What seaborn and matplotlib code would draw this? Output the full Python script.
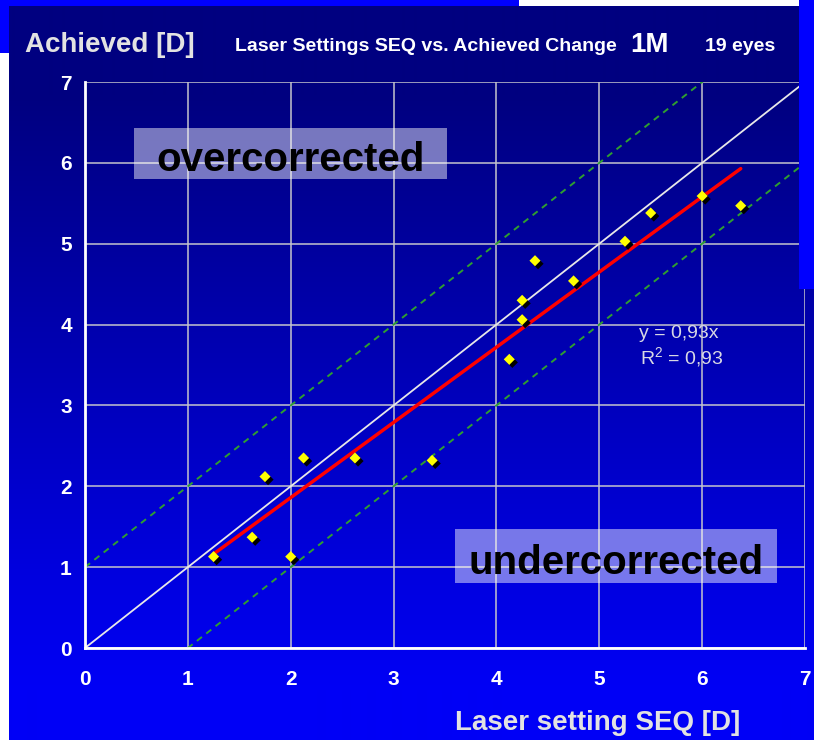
import numpy as np
import pandas as pd
import matplotlib
matplotlib.use("Agg")
import matplotlib.pyplot as plt
import matplotlib.patheffects as pe
from matplotlib.patches import Rectangle
import seaborn as sns

# Laser setting (spherical equivalent) vs achieved correction, in dioptres
laser_seq = [1.25, 1.625, 1.75, 2.0, 2.125, 2.625, 3.375, 4.125, 4.25, 4.25,
             4.375, 4.75, 5.25, 5.5, 6.0, 6.375]
achieved = [1.13, 1.37, 2.12, 1.13, 2.35, 2.35, 2.32, 3.57, 4.06, 4.30,
            4.79, 4.54, 5.03, 5.38, 5.59, 5.47]
slope = 0.93
r_squared = 0.93
n_eyes = 19
axis_ticks = [0, 1, 2, 3, 4, 5, 6, 7]
tolerance = 1.0

df = pd.DataFrame({"laser": laser_seq, "achieved": achieved})

sns.set_style("white")
plt.rcParams["font.family"] = ["Liberation Sans", "DejaVu Sans"]
plt.rcParams["mathtext.fontset"] = "custom"
plt.rcParams["mathtext.rm"] = "Liberation Sans"
plt.rcParams["mathtext.it"] = "Liberation Sans:italic"

W, H = 814, 740
fig = plt.figure(figsize=(W / 100, H / 100), dpi=100)


def fx(px):
    return px / W


def fy(py):
    return 1 - py / H


# slide background: vertical navy-to-blue gradient
bg = fig.add_axes([0, 0, 1, 1], zorder=-5)
bg.set_xlim(0, W)
bg.set_ylim(H, 0)
bg.axis("off")
rows = np.arange(6, H)
blue = np.interp(rows, [95, 690], [128, 246]) / 255.0
grad = np.zeros((len(rows), 1, 3))
grad[:, 0, 2] = blue
bg.imshow(grad, aspect="auto", extent=(9, W, H, 6), interpolation="bilinear")
bg.add_patch(Rectangle((0, 0), 519, 6, color="#0000ff", lw=0))
bg.add_patch(Rectangle((0, 0), 9, 53, color="#0000ff", lw=0))
bg.add_patch(Rectangle((519, 0), 281, 6, color="white", lw=0))
bg.add_patch(Rectangle((0, 53), 9, H - 53, color="white", lw=0))

# main scatter axes
ax = fig.add_axes([fx(85), fy(648), 720 / W, 566 / H])
ax.set_facecolor("none")
ax.set_xlim(0, 7)
ax.set_ylim(0, 7)
ax.set_axisbelow(True)
ax.grid(True, color="#c4c4cc", lw=1.1)
for side in ("top", "right"):
    ax.spines[side].set_visible(False)
for side in ("left", "bottom"):
    ax.spines[side].set_color("white")
    ax.spines[side].set_linewidth(2)
    ax.spines[side].set_zorder(2.6)
ax.set_xticks(axis_ticks)
ax.set_yticks(axis_ticks)
ax.tick_params(axis="both", direction="out", length=4.5, width=1.6, color="white",
               labelcolor="white", labelsize=15)
ax.tick_params(axis="x", pad=11)
ax.tick_params(axis="y", pad=5)
for lab in ax.get_xticklabels() + ax.get_yticklabels():
    lab.set_fontweight("bold")

# reference lines: perfect correction and +/- 1 D band
ref_x = np.array([axis_ticks[0], axis_ticks[-1]], dtype=float)
sns.lineplot(x=ref_x, y=ref_x, color="#e8e8e8", lw=1.3, ax=ax, zorder=2)
sns.lineplot(x=ref_x, y=ref_x + tolerance, color="#2f9f2f", lw=1.4, ax=ax, zorder=2)
sns.lineplot(x=ref_x, y=ref_x - tolerance, color="#2f9f2f", lw=1.4, ax=ax, zorder=2)
ax.lines[1].set_dashes((3.3, 2.8))
ax.lines[2].set_dashes((3.3, 2.8))

# regression through the origin
fit_x = np.array([min(laser_seq), max(laser_seq)])
sns.lineplot(x=fit_x, y=slope * fit_x, color="#ff0000", lw=2.5, ax=ax, zorder=3)

sns.scatterplot(data=df, x="laser", y="achieved", marker="D", s=32, color="#ffff00",
                linewidth=0, ax=ax, zorder=4, clip_on=False,
                path_effects=[pe.withSimplePatchShadow(offset=(2.2, -2.2),
                                                       shadow_rgbFace="black", alpha=1.0)])
ax.set_xlabel("")
ax.set_ylabel("")

# region labels
for (x0, y0, x1, y1, txt) in [(0.476, 5.80, 3.52, 6.43, "overcorrected"),
                              (3.60, 0.80, 6.727, 1.47, "undercorrected")]:
    ax.add_patch(Rectangle((x0, y0), x1 - x0, y1 - y0, facecolor="white",
                           alpha=0.47, lw=0, zorder=1.5))
    ax.text((x0 + x1) / 2, (y0 + y1) / 2 - 0.08, txt, ha="center", va="center",
            fontsize=29, fontweight="bold", color="black", zorder=5)

# equation of the fit
eq_color = "#d8d8e4"
fig.text(fx(639), fy(338), f"y = {slope:.2f}x".replace(".", ","), fontsize=14,
         color=eq_color, va="baseline")
fig.text(fx(640), fy(364), r"R$^2$" + f" = {r_squared:.2f}".replace(".", ","),
         fontsize=14, color=eq_color, va="baseline")

# header and axis titles
fig.text(fx(25), fy(52), "Achieved [D]", fontsize=20, fontweight="bold",
         color="#e2e2e2", va="baseline")
fig.text(fx(235), fy(51), "Laser Settings SEQ vs. Achieved Change", fontsize=14,
         fontweight="bold", color="white", va="baseline")
fig.text(fx(630), fy(52), "1M", fontsize=20, fontweight="bold", color="white",
         va="baseline")
fig.text(fx(705), fy(51), f"{n_eyes} eyes", fontsize=14, fontweight="bold",
         color="white", va="baseline")
fig.text(fx(455), fy(730), "Laser setting SEQ [D]", fontsize=20, fontweight="bold",
         color="#e2e2e2", va="baseline")

# bright strip along the right edge of the slide
fig.add_artist(Rectangle((fx(799), fy(289)), fx(15), 289 / H, color="#0000ff",
                         lw=0, transform=fig.transFigure, zorder=10))
fig.add_artist(Rectangle((fx(800), fy(6)), fx(14), 6 / H, color="#0000ff",
                         lw=0, transform=fig.transFigure, zorder=10))

fig.savefig("out.png", dpi=100)
